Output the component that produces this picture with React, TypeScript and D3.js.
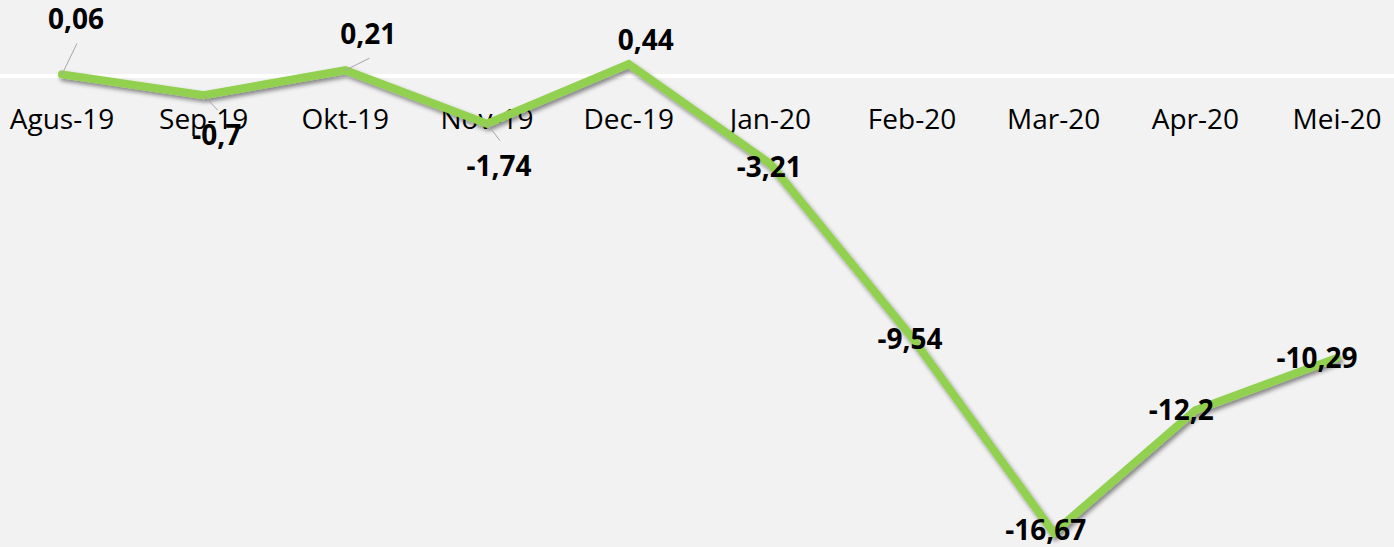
import React from 'react';
import * as d3 from 'd3';

const months = ['Agus-19', 'Sep-19', 'Okt-19', 'Nov-19', 'Dec-19', 'Jan-20', 'Feb-20', 'Mar-20', 'Apr-20', 'Mei-20'];
const values = [0.06, -0.7, 0.21, -1.74, 0.44, -3.21, -9.54, -16.67, -12.2, -10.29];
const valueLabels = ['0,06', '-0,7', '0,21', '-1,74', '0,44', '-3,21', '-9,54', '-16,67', '-12,2', '-10,29'];

// where each data label sits relative to its point (dx, baseline dy), and whether it gets a leader line
const labelOffsets: [number, number, boolean][] = [
  [14, -45, true], [13, 50, true], [23, -26, true], [12, 52, true], [17, -14, false],
  [-1, 13, false], [-2, 12, false], [-8, 7, false], [-14, 10, false], [-20, 10, false],
];

const W = 1394;
const H = 547;
const FONT = '"Open Sans", "Noto Sans", sans-serif';

const App = () => {
  const x = d3.scalePoint<string>().domain(months).range([62, 1337]);
  const y = d3.scaleLinear().domain([-18, 2]).range([76 + 18 * 27.4, 76 - 2 * 27.4]);

  const line = d3.line<number>()
    .x((_, i) => x(months[i]) as number)
    .y(d => y(d));

  return (
    <svg width={W} height={H} style={{ position: 'absolute', left: 0, top: 0 }}>
      <defs>
        <filter id="shadow" x="-10%" y="-10%" width="120%" height="120%">
          <feDropShadow dx="2" dy="3" stdDeviation="2" floodColor="#000" floodOpacity="0.45" />
        </filter>
      </defs>
      <rect width={W} height={H} fill="#f2f2f2" />
      <line x1={0} x2={W} y1={y(0)} y2={y(0)} stroke="#ffffff" strokeWidth={4} />

      {months.map(m => (
        <text key={m} x={x(m)} y={129} textAnchor="middle" fontFamily={FONT} fontSize={28} fill="#000">
          {m}
        </text>
      ))}

      <path d={line(values) || ''} fill="none" stroke="#92d050" strokeWidth={8}
        strokeLinecap="round" strokeLinejoin="miter" filter="url(#shadow)" />

      {values.map((v, i) => {
        const px = x(months[i]) as number;
        const py = y(v);
        const [dx, dy, leader] = labelOffsets[i];
        const lx = px + dx;
        const ly = py + dy;
        const above = dy < 0;
        return (
          <g key={months[i]}>
            {leader && (
              <line x1={px} y1={py} x2={lx + 1} y2={above ? ly + 14 : ly - 35}
                stroke="#a6a6a6" strokeWidth={1} />
            )}
            <text x={lx} y={ly} textAnchor="middle" fontFamily={FONT} fontSize={28}
              fontWeight="bold" fill="#000">
              {valueLabels[i]}
            </text>
          </g>
        );
      })}
    </svg>
  );
};

export default App;
